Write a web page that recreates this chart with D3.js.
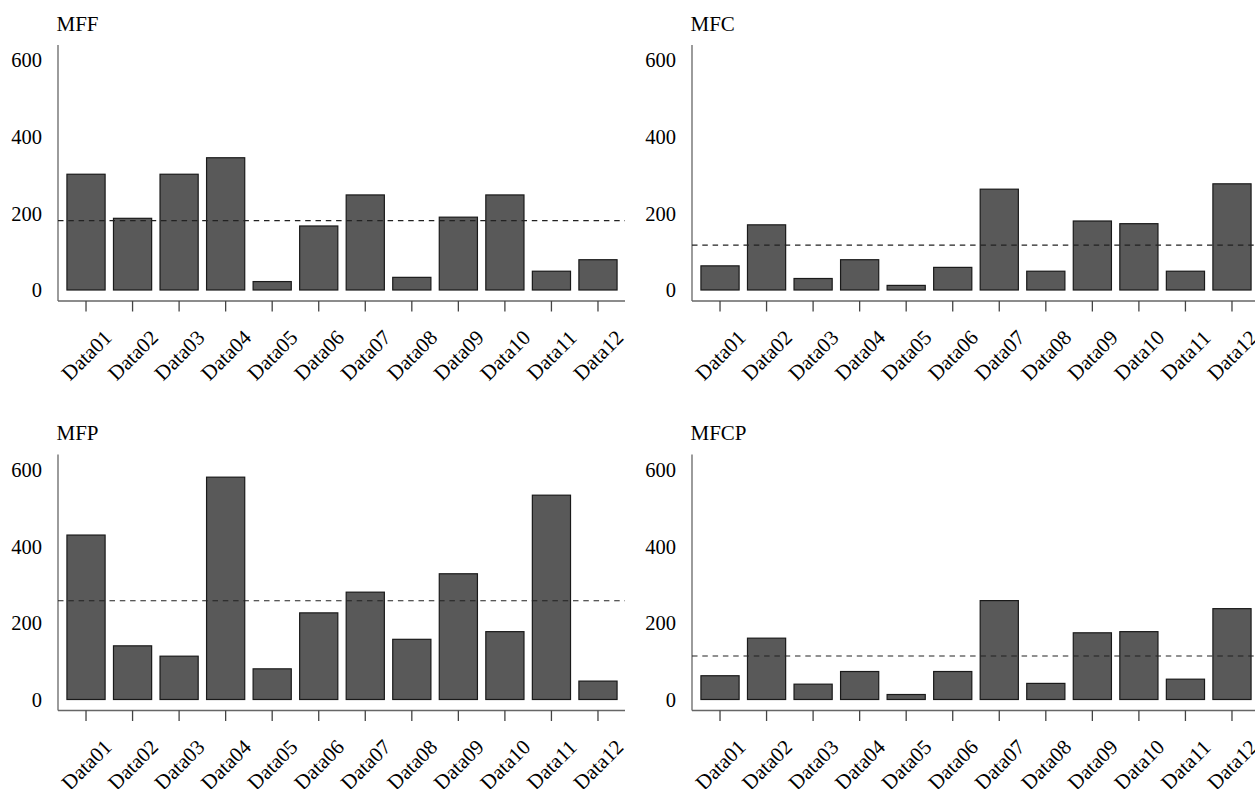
<!DOCTYPE html>
<html>
<head>
<meta charset="utf-8">
<script src="https://cdn.jsdelivr.net/npm/d3@7"></script>
<style>
  html, body { margin: 0; padding: 0; background: #fff; }
  svg { display: block; }
  text { font-family: "Liberation Serif", "DejaVu Serif", serif; fill: #000; }
</style>
</head>
<body>
<svg id="chart" width="1255" height="789"></svg>
<script>
const categories = ["Data01","Data02","Data03","Data04","Data05","Data06","Data07","Data08","Data09","Data10","Data11","Data12"];
const mffValues  = [302, 187, 302, 345, 22, 167, 248, 33, 190, 248, 49, 79];
const mfcValues  = [63, 170, 30, 79, 12, 59, 263, 49, 180, 173, 49, 277];
const mfpValues  = [429, 140, 113, 580, 80, 226, 280, 157, 328, 177, 533, 48];
const mfcpValues = [62, 160, 40, 73, 13, 73, 258, 42, 174, 177, 53, 237];
const panelTitles = ["MFF", "MFC", "MFP", "MFCP"];
const yTickValues = [0, 200, 400, 600];

const panels = [
  { title: panelTitles[0], values: mffValues,  col: 0, row: 0 },
  { title: panelTitles[1], values: mfcValues,  col: 1, row: 0 },
  { title: panelTitles[2], values: mfpValues,  col: 0, row: 1 },
  { title: panelTitles[3], values: mfcpValues, col: 1, row: 1 }
];

const svg = d3.select("#chart");
const colShift = 634, rowShift = 409.5;

panels.forEach(p => {
  const g = svg.append("g")
    .attr("transform", `translate(${p.col * colShift},${p.row * rowShift})`);

  const x = d3.scaleBand().domain(categories)
    .range([62.75, 621.25]).paddingInner(0.18).paddingOuter(0.09);
  const y = d3.scaleLinear().domain([0, 600]).range([290, 60]);

  const axisY = 301, axisX = 58;

  // title
  g.append("text").attr("x", 56.5).attr("y", 30.5)
    .attr("font-size", 21).text(p.title);

  // y axis line
  g.append("line").attr("x1", axisX).attr("x2", axisX)
    .attr("y1", 45).attr("y2", axisY)
    .attr("stroke", "#666").attr("stroke-width", 1.3);
  // y tick labels
  g.selectAll(".ytl").data(yTickValues).join("text")
    .attr("x", 42).attr("y", d => y(d)).attr("dy", "0.36em")
    .attr("text-anchor", "end").attr("font-size", 20.5)
    .text(d => d);

  // bars
  g.selectAll(".bar").data(p.values.map((v, i) => ({ c: categories[i], v })))
    .join("rect")
    .attr("x", d => x(d.c)).attr("width", x.bandwidth())
    .attr("y", d => y(d.v)).attr("height", d => y(0) - y(d.v))
    .attr("fill", "#595959").attr("stroke", "#1a1a1a").attr("stroke-width", 1.2);

  // mean dashed line
  const m = d3.mean(p.values);
  g.append("line").attr("x1", axisX).attr("x2", 625)
    .attr("y1", y(m)).attr("y2", y(m))
    .attr("stroke", "#222").attr("stroke-width", 1.2)
    .attr("stroke-dasharray", "5.5,4.8");

  // x axis
  g.append("line").attr("x1", axisX).attr("x2", 625)
    .attr("y1", axisY).attr("y2", axisY)
    .attr("stroke", "#666").attr("stroke-width", 1.3);
  g.selectAll(".xt").data(categories).join("line")
    .attr("x1", d => x(d) + x.bandwidth() / 2).attr("x2", d => x(d) + x.bandwidth() / 2)
    .attr("y1", axisY).attr("y2", axisY + 10.5)
    .attr("stroke", "#444").attr("stroke-width", 1.3);
  g.selectAll(".xl").data(categories).join("text")
    .attr("transform", d => `translate(${x(d) + x.bandwidth() / 2},355) rotate(-45)`)
    .attr("text-anchor", "middle").attr("dy", "0.36em")
    .attr("font-size", 21).text(d => d);
});
</script>
</body>
</html>
